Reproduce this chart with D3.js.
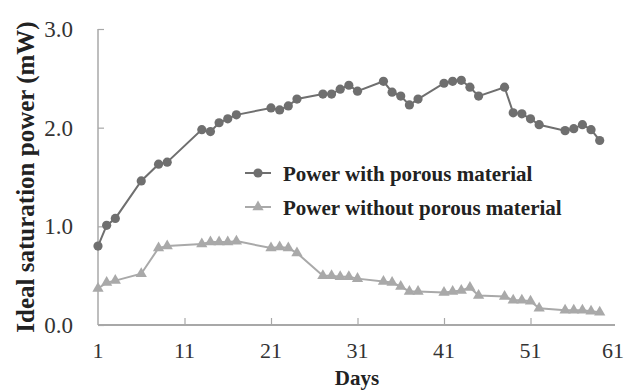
<!DOCTYPE html>
<html><head><meta charset="utf-8">
<script src="https://cdn.jsdelivr.net/npm/d3@7"></script>
<style>body{margin:0;background:#fff}svg{display:block}</style>
</head><body>
<svg id="c" width="625" height="390"></svg>
<script>
const daysWith = [1,2,3,6,8,9,13,14,15,16,17,21,22,23,24,27,28,29,30,31,34,35,36,37,38,41,42,43,44,45,48,49,50,51,52,55,56,57,58,59];
const powerWith = [0.80,1.01,1.08,1.46,1.63,1.65,1.98,1.96,2.05,2.09,2.13,2.20,2.18,2.22,2.29,2.34,2.34,2.39,2.43,2.37,2.47,2.36,2.32,2.23,2.29,2.45,2.47,2.48,2.41,2.32,2.41,2.15,2.14,2.09,2.03,1.97,1.99,2.03,1.98,1.87];
const daysWithout = [1,2,3,6,8,9,13,14,15,16,17,21,22,23,24,27,28,29,30,31,34,35,36,37,38,41,42,43,44,45,48,49,50,51,52,55,56,57,58,59];
const powerWithout = [0.37,0.43,0.45,0.52,0.78,0.80,0.82,0.84,0.84,0.84,0.85,0.78,0.79,0.78,0.73,0.50,0.50,0.49,0.49,0.47,0.44,0.43,0.39,0.34,0.34,0.33,0.34,0.35,0.38,0.30,0.29,0.25,0.25,0.24,0.17,0.15,0.15,0.15,0.14,0.13];
const xTicks = [1,11,21,31,41,51,61];
const yTicks = [0,1,2,3];
const seriesNames = ["Power with porous material","Power without porous material"];

const svg = d3.select("#c");
const x = d3.scaleLinear().domain([1,61]).range([98,617]);
const y = d3.scaleLinear().domain([0,3]).range([325,29]);
const axisColor = "#a8a8a8";
const serif = "'Liberation Serif','Times New Roman',serif";

// y axis
const ya = svg.append("g").attr("transform","translate(98,0)")
  .call(d3.axisRight(y).tickValues(yTicks).tickSize(6).tickFormat(""));
ya.select(".domain").attr("stroke",axisColor).attr("stroke-width",1.5).attr("d","M0,29V325");
ya.selectAll(".tick line").attr("stroke",axisColor).attr("stroke-width",1.2);
svg.append("g").selectAll("text").data(yTicks).join("text")
  .attr("x",73).attr("y",d=>y(d)+8).attr("text-anchor","end")
  .attr("font-family",serif).attr("font-size",23).attr("fill","#333")
  .text(d=>d3.format(".1f")(d));

// x axis
const xa = svg.append("g").attr("transform","translate(0,325)")
  .call(d3.axisTop(x).tickValues(xTicks.filter(d=>d>1&&d<61)).tickSize(7).tickFormat(""));
xa.select(".domain").attr("stroke",axisColor).attr("stroke-width",2).attr("d","M98,0H615");
xa.selectAll(".tick line").attr("stroke",axisColor).attr("stroke-width",1.2);
svg.append("g").selectAll("text").data(xTicks).join("text")
  .attr("x",d=>d===61?624:x(d)).attr("y",358).attr("text-anchor",d=>d===61?"end":"middle")
  .attr("font-family",serif).attr("font-size",22).attr("fill","#333")
  .text(d=>d);

// axis titles
svg.append("text").attr("x",357).attr("y",385).attr("text-anchor","middle")
  .attr("font-family",serif).attr("font-weight","bold").attr("font-size",21).attr("fill","#222").text("Days");
svg.append("text").attr("transform","translate(34,177) rotate(-90)").attr("text-anchor","middle")
  .attr("font-family",serif).attr("font-weight","bold").attr("font-size",25).attr("fill","#222")
  .text("Ideal saturation power (mW)");

const line = d3.line().x(d=>x(d[0])).y(d=>y(d[1]));
const dataWith = daysWith.map((d,i)=>[d,powerWith[i]]);
const dataWithout = daysWithout.map((d,i)=>[d,powerWithout[i]]);
const c1 = "#6f6f6f", c2 = "#a9a9a9";
const tri = d3.symbol().type(d3.symbolTriangle).size(55);

svg.append("path").datum(dataWithout).attr("d",line).attr("fill","none").attr("stroke",c2).attr("stroke-width",2);
svg.append("g").selectAll("path").data(dataWithout).join("path")
  .attr("transform",d=>`translate(${x(d[0])},${y(d[1])})`).attr("d",tri).attr("fill",c2);

svg.append("path").datum(dataWith).attr("d",line).attr("fill","none").attr("stroke",c1).attr("stroke-width",2);
svg.append("g").selectAll("circle").data(dataWith).join("circle")
  .attr("cx",d=>x(d[0])).attr("cy",d=>y(d[1])).attr("r",4.6).attr("fill",c1);

// legend
const lg = svg.append("g");
const ly = [173,207];
[c1,c2].forEach((c,i)=>{
  lg.append("line").attr("x1",245).attr("x2",271).attr("y1",ly[i]).attr("y2",ly[i]).attr("stroke",c).attr("stroke-width",2);
  if(i===0) lg.append("circle").attr("cx",258).attr("cy",ly[i]).attr("r",4.6).attr("fill",c);
  else lg.append("path").attr("transform",`translate(258,${ly[i]})`).attr("d",tri).attr("fill",c);
  lg.append("text").attr("x",283).attr("y",ly[i]+8).attr("font-family",serif).attr("font-weight","bold")
    .attr("font-size",21).attr("fill","#222").text(seriesNames[i]);
});
</script>
</body></html>
